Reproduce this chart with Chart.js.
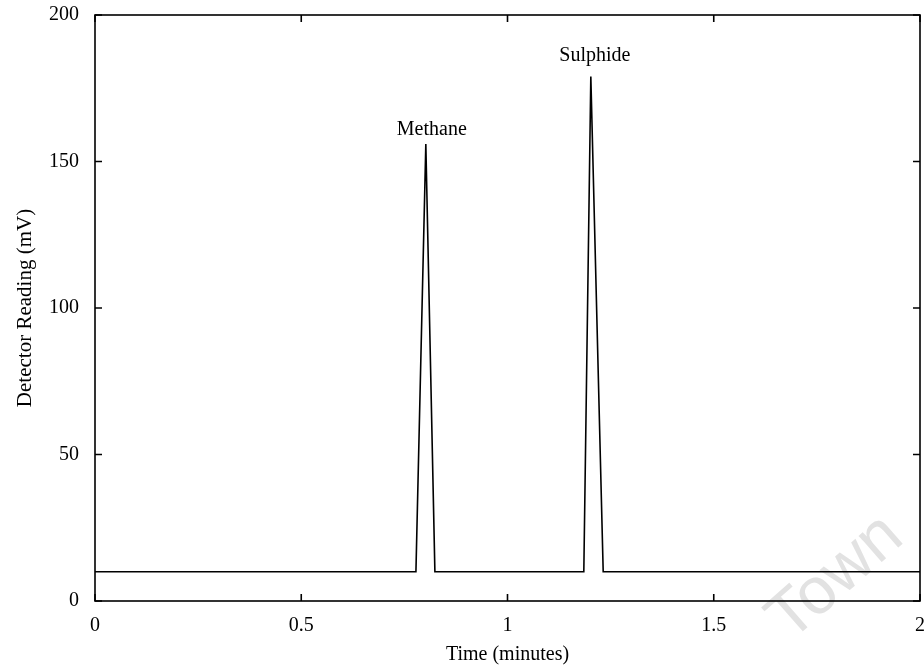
<!DOCTYPE html>
<html>
<head>
<meta charset="utf-8">
<script src="https://cdn.jsdelivr.net/npm/chart.js@4.4.1/dist/chart.umd.min.js"></script>
<style>
  html, body { margin: 0; padding: 0; background: #fff; }
  canvas { display: block; }
</style>
</head>
<body>
<canvas id="chart" width="924" height="670"></canvas>
<script>
// Chromatogram trace: time (minutes) vs detector reading (mV)
const timeMinutes = [0, 0.778, 0.802, 0.824, 1.185, 1.202, 1.232, 2];
const detectorMv  = [10, 10, 156, 10, 10, 179, 10, 10];

// Axis tick values
const xTickValues = [0, 0.5, 1, 1.5, 2];
const yTickValues = [0, 50, 100, 150, 200];

// Named peaks (index into the trace arrays)
const peakNames = ['Methane', 'Sulphide'];
const peakIndex = [2, 5];

const SERIF = '"Liberation Serif", "Times New Roman", serif';

// Paper-style watermark behind the plot
const watermark = {
  id: 'watermark',
  beforeDatasetsDraw(chart) {
    const { ctx } = chart;
    ctx.save();
    ctx.translate(836, 578);
    ctx.rotate(-0.72);
    ctx.font = '66px "Liberation Sans", Arial, sans-serif';
    ctx.fillStyle = '#e2e2e2';
    ctx.textAlign = 'center';
    ctx.textBaseline = 'middle';
    ctx.fillText('Town', 0, 0);
    ctx.restore();
  }
};

// Closed frame with inward ticks on all four sides
const frame = {
  id: 'frame',
  afterDatasetsDraw(chart) {
    const { ctx, chartArea: { left, right, top, bottom }, scales: { x, y } } = chart;
    const len = 7;
    ctx.save();
    ctx.strokeStyle = '#000';
    ctx.lineWidth = 1.6;
    ctx.strokeRect(left, top, right - left, bottom - top);
    ctx.beginPath();
    x.ticks.forEach(t => {
      const px = x.getPixelForValue(t.value);
      ctx.moveTo(px, bottom); ctx.lineTo(px, bottom - len);
      ctx.moveTo(px, top);    ctx.lineTo(px, top + len);
    });
    y.ticks.forEach(t => {
      const py = y.getPixelForValue(t.value);
      ctx.moveTo(left, py);  ctx.lineTo(left + len, py);
      ctx.moveTo(right, py); ctx.lineTo(right - len, py);
    });
    ctx.stroke();
    ctx.restore();
  }
};

// Peak names written above each peak apex
const peakLabels = {
  id: 'peakLabels',
  afterDatasetsDraw(chart, args, opts) {
    const { ctx, scales: { x, y } } = chart;
    ctx.save();
    ctx.font = '20px ' + SERIF;
    ctx.fillStyle = '#000';
    ctx.textAlign = 'center';
    ctx.textBaseline = 'alphabetic';
    peakNames.forEach((name, i) => {
      const k = peakIndex[i];
      const off = opts.offsets[i];
      const px = x.getPixelForValue(timeMinutes[k]);
      const py = y.getPixelForValue(detectorMv[k]);
      ctx.fillText(name, px + off.dx, py + off.dy);
    });
    ctx.restore();
  }
};

new Chart(document.getElementById('chart'), {
  type: 'scatter',
  data: {
    datasets: [{
      data: timeMinutes.map((t, i) => ({ x: t, y: detectorMv[i] })),
      showLine: true,
      borderColor: '#000',
      borderWidth: 1.6,
      pointRadius: 0,
      tension: 0,
      fill: false
    }]
  },
  options: {
    responsive: false,
    animation: false,
    events: [],
    layout: { padding: { left: 0, right: 4, top: 15, bottom: 0 } },
    plugins: {
      legend: { display: false },
      tooltip: { enabled: false },
      peakLabels: { offsets: [{ dx: 6, dy: -9 }, { dx: 4, dy: -16 }] }
    },
    scales: {
      x: {
        type: 'linear',
        min: 0, max: 2,
        afterBuildTicks: s => { s.ticks = xTickValues.map(v => ({ value: v })); },
        afterFit: s => { s.height = 69; s.paddingLeft = 0; s.paddingRight = 0; },
        grid: { display: false, drawTicks: false },
        border: { display: false },
        ticks: {
          padding: 13,
          color: '#000',
          font: { family: SERIF, size: 20 },
          maxRotation: 0,
          callback: v => String(v)
        },
        title: {
          display: true,
          text: 'Time (minutes)',
          color: '#000',
          font: { family: SERIF, size: 20 },
          padding: { top: 0, bottom: 3 }
        }
      },
      y: {
        min: 0, max: 200,
        afterBuildTicks: s => { s.ticks = yTickValues.map(v => ({ value: v })); },
        afterFit: s => { s.width = 95; s.paddingTop = 0; s.paddingBottom = 0; },
        grid: { display: false, drawTicks: false },
        border: { display: false },
        ticks: {
          padding: 16,
          color: '#000',
          font: { family: SERIF, size: 20 },
          callback: v => String(v)
        },
        title: {
          display: true,
          text: 'Detector Reading (mV)',
          color: '#000',
          font: { family: SERIF, size: 21 },
          padding: { top: 13, bottom: 0 }
        }
      }
    }
  },
  plugins: [watermark, frame, peakLabels]
});
</script>
</body>
</html>
